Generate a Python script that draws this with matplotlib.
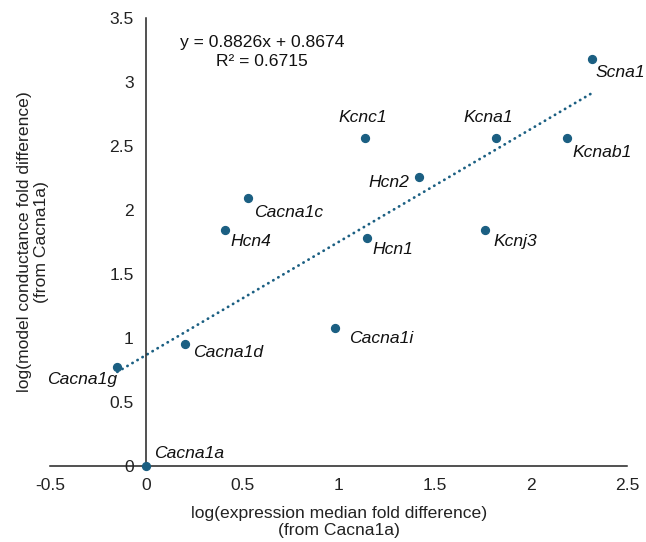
import matplotlib
matplotlib.use("Agg")
import matplotlib.pyplot as plt
import numpy as np

plt.rcParams['font.family'] = ['Liberation Sans', 'DejaVu Sans']

genes = ["Cacna1a", "Cacna1g", "Cacna1d", "Hcn4", "Cacna1c", "Kcnc1", "Hcn2",
         "Hcn1", "Cacna1i", "Kcna1", "Kcnj3", "Kcnab1", "Scna1"]
x_vals = [0.0, -0.15, 0.20, 0.41, 0.53, 1.14, 1.42, 1.15, 0.98, 1.82, 1.76, 2.19, 2.32]
y_vals = [0.0, 0.77, 0.95, 1.84, 2.09, 2.56, 2.26, 1.78, 1.08, 2.56, 1.84, 2.56, 3.18]
slope = 0.8826
intercept = 0.8674
r2 = 0.6715
x_ticks = [-0.5, 0, 0.5, 1, 1.5, 2, 2.5]
y_ticks = [0, 0.5, 1, 1.5, 2, 2.5, 3, 3.5]

# label offsets in points (dx, dy, ha)
label_style = {
    "Cacna1a": (6, 9, "left"),
    "Cacna1g": (0, -9, "right"),
    "Cacna1d": (6, -6, "left"),
    "Hcn4": (4, -8, "left"),
    "Cacna1c": (4, -10, "left"),
    "Kcnc1": (-2, 15, "center"),
    "Hcn2": (-7, -4, "right"),
    "Hcn1": (4, -8, "left"),
    "Cacna1i": (10, -8, "left"),
    "Kcna1": (-6, 15, "center"),
    "Kcnj3": (6, -8, "left"),
    "Kcnab1": (4, -10, "left"),
    "Scna1": (2.5, -10, "left"),
}

color = "#1B5F82"
fs = 12.6
fig = plt.figure(figsize=(6.46, 5.42), dpi=100)
ax = fig.add_axes([50/646, 1-466/542, (627-50)/646, (466-18)/542])

ax.scatter(x_vals, y_vals, s=32, color=color, zorder=3, clip_on=False)

xs = np.array([min(x_vals), max(x_vals)])
ax.plot(xs, slope*xs + intercept, color=color, lw=2.0, linestyle=(0, (0.1, 2.0)),
        dash_capstyle='round', zorder=2)

for g, x, y in zip(genes, x_vals, y_vals):
    dx, dy, ha = label_style[g]
    ax.annotate(g, (x, y), xytext=(dx, dy), textcoords='offset points',
                ha=ha, va='center', fontsize=fs, style='italic', color='#111111')

ax.set_xlim(-0.5, 2.5)
ax.set_ylim(0, 3.5)
ax.set_xticks(x_ticks)
ax.set_xticklabels([f"{t:g}" for t in x_ticks])
ax.set_yticks(y_ticks)
ax.set_yticklabels([f"{t:g}" for t in y_ticks])
ax.spines['left'].set_position(('data', 0))
ax.spines['right'].set_visible(False)
ax.spines['top'].set_visible(False)
for s in ['left', 'bottom']:
    ax.spines[s].set_color('#222222')
    ax.spines[s].set_linewidth(1.1)
ax.tick_params(length=0, labelsize=fs, colors='#222222')
ax.tick_params(axis='x', pad=9)
ax.tick_params(axis='y', pad=9)

fig.text(262/646, 1-52/542, f"y = {slope}x + {intercept}\nR² = {r2}",
         ha='center', va='center', fontsize=fs, color='#111111', linespacing=1.35)

fig.text(339/646, 1-522/542, "log(expression median fold difference)\n(from Cacna1a)",
         ha='center', va='center', fontsize=fs, color='#222222', linespacing=1.1)
fig.text(33/646, 1-242/542, "log(model conductance fold difference)\n(from Cacna1a)",
         ha='center', va='center', rotation=90, fontsize=fs, color='#222222',
         linespacing=1.1)

fig.savefig("out.png", dpi=100)
